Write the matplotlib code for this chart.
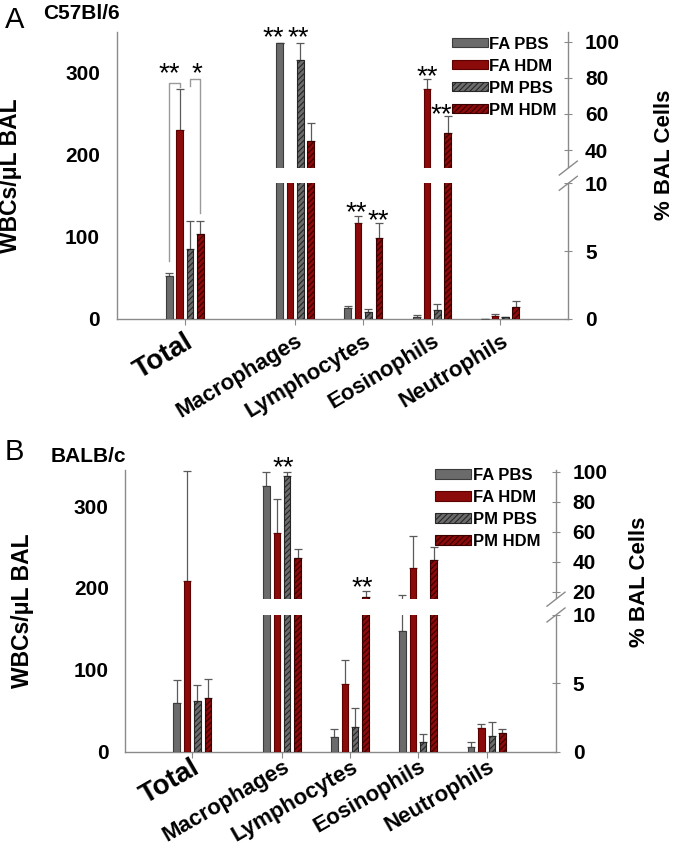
import numpy as np
import matplotlib.pyplot as plt
from matplotlib import transforms

plt.rcParams['font.family'] = ['Liberation Sans', 'DejaVu Sans']
plt.rcParams['hatch.linewidth'] = 0.8

W, H = 677, 852

groups = ['FA PBS', 'FA HDM', 'PM PBS', 'PM HDM']
cells = ['Macrophages', 'Lymphocytes', 'Eosinophils', 'Neutrophils']

# panel A - C57Bl/6 (Total in WBCs/uL, cell types in % BAL cells)
a_total = [52, 230, 85, 103]
a_total_err = [4, 50, 34, 16]
a_mac = [99.5, 19, 89.8, 45.2]
a_mac_err = [0, 2, 9.6, 9.9]
a_lym = [0.79, 7.1, 0.49, 5.95]
a_lym_err = [0.19, 0.5, 0.22, 1.1]
a_eos = [0.17, 73.9, 0.64, 49.2]
a_eos_err = [0.13, 5.2, 0.44, 9.7]
a_neu = [0.0, 0.25, 0.15, 0.86]
a_neu_err = [0, 0.09, 0, 0.49]

# panel B - BALB/c
b_total = [59, 208, 62, 66]
b_total_err = [28, 135, 19, 23]
b_mac = [90.4, 58.9, 97.1, 42.2]
b_mac_err = [9.6, 22.9, 2.5, 6.2]
b_lym = [1.05, 4.98, 1.79, 16.2]
b_lym_err = [0.62, 1.76, 1.42, 4.2]
b_eos = [8.85, 35.6, 0.74, 41.1]
b_eos_err = [9.0, 21.5, 0.56, 8.5]
b_neu = [0.37, 1.72, 1.18, 1.35]
b_neu_err = [0.32, 0.31, 0.98, 0.32]

face = ['#6b6b6b', '#8b0a0a', '#6b6b6b', '#8b0a0a']
edge = ['#3c3c3c', '#5c0000', '#262626', '#3a0000']
hatch = [None, None, '//////', '//////']
spine_c = '#8a8a8a'


def break_scale(lo_top, hi_bot, s_lo, s_gap, s_hi):
    u_lo = lo_top * s_lo
    u_hi = u_lo + (hi_bot - lo_top) * s_gap

    def fwd(v):
        v = np.asarray(v, dtype=float)
        return np.where(v <= lo_top, v * s_lo,
                        np.where(v <= hi_bot, u_lo + (v - lo_top) * s_gap,
                                 u_hi + (v - hi_bot) * s_hi))

    def inv(u):
        u = np.asarray(u, dtype=float)
        return np.where(u <= u_lo, u / s_lo,
                        np.where(u <= u_hi, lo_top + (u - u_lo) / s_gap,
                                 hi_bot + (u - u_hi) / s_hi))
    return fwd, inv


def panel(box, letter, strain, total, total_err, pct, pct_err, lay):
    x0, yt, x1, yb = box
    fig = plt.gcf()
    ax = fig.add_axes([x0 / W, 1 - yb / H, (x1 - x0) / W, (yb - yt) / H])
    ax2 = ax.twinx()
    step, bw = lay['step'], lay['width']
    centers = np.array(lay['centers'])

    # total cells, left axis
    for i in range(4):
        xi = centers[0] + (i - 1.5) * step
        ax.bar(xi, total[i], bw, color=face[i], edgecolor=edge[i], hatch=hatch[i], lw=0.8, zorder=3)
        ax.errorbar(xi, total[i], yerr=[[0], [total_err[i]]], fmt='none', ecolor='#5a5a5a',
                    elinewidth=0.9, capsize=2.6, capthick=0.9, zorder=2)

    # differential, right axis with broken scale
    fwd, inv = break_scale(*lay['brk'])
    ax2.set_yscale('function', functions=(fwd, inv))
    handles = []
    for i in range(4):
        xi = centers[1:] + (i - 1.5) * step
        vals = [p[i] for p in pct]
        errs = [e[i] for e in pct_err]
        b = ax2.bar(xi, vals, bw, color=face[i], edgecolor=edge[i], hatch=hatch[i], lw=0.8, zorder=3,
                    label=groups[i])
        ax2.errorbar(xi, vals, yerr=[np.zeros(4), errs], fmt='none', ecolor='#5a5a5a',
                     elinewidth=0.9, capsize=2.6, capthick=0.9, zorder=2)
        handles.append(b)

    ax.set_xlim(lay['xlim'])
    ax.set_ylim(0, lay['ylim'])
    ax2.set_ylim(0, lay['ylim2'])

    # gap of the broken axis
    lo_top, hi_bot = lay['brk'][0], lay['brk'][1]
    xl = lay['xlim']
    mx = ((centers[0] + centers[1]) / 2 - xl[0]) / (xl[1] - xl[0])
    tr = transforms.blended_transform_factory(ax2.transAxes, ax2.transData)
    ax2.add_patch(plt.Rectangle((mx, lo_top), 1.012 - mx, hi_bot - lo_top, transform=tr,
                                facecolor='white', edgecolor='none', zorder=10, clip_on=False))
    utop = fwd(lay['ylim2'])
    dx = 9 / (x1 - x0)
    dy = 7 / (yb - yt)
    for v in (lo_top, hi_bot):
        f = fwd(v) / utop
        ax2.plot([1 - dx, 1 + dx], [f - dy, f + dy], transform=ax2.transAxes, color=spine_c,
                 lw=1, clip_on=False, zorder=11)

    for s in ['top', 'right']:
        ax.spines[s].set_visible(False)
    for s in ['top', 'left', 'bottom']:
        ax2.spines[s].set_visible(False)
    for a in (ax, ax2):
        for s in a.spines.values():
            s.set_color(spine_c)
            s.set_linewidth(1)

    ax.set_yticks([0, 100, 200, 300])
    ax.tick_params(axis='y', length=0, pad=12, labelsize=15)
    ax2.set_yticks(lay['rticks'])
    ax2.set_yticklabels([str(t) for t in lay['rticks']])
    ax2.tick_params(axis='y', direction='inout', length=6, color=spine_c, pad=9, labelsize=15)
    for t in ax.get_yticklabels() + ax2.get_yticklabels():
        t.set_fontweight('bold')

    ax.set_xticks(centers)
    ax.set_xticklabels(['Total'] + cells, rotation=lay['rot'], ha='right', va='center',
                       rotation_mode='anchor')
    ax.tick_params(axis='x', length=4, color=spine_c, pad=lay['xpad'], labelsize=16)
    off = transforms.ScaledTranslation(6 / 100, 0, fig.dpi_scale_trans)
    for k, t in enumerate(ax.get_xticklabels()):
        t.set_fontweight('bold')
        t.set_transform(t.get_transform() + off)
        if k == 0:
            t.set_fontsize(20)

    ax.set_ylabel('WBCs/μL BAL', fontsize=16.5, fontweight='bold')
    ax.yaxis.set_label_coords(*lay['llab'])
    ax2.set_ylabel('% BAL Cells', fontsize=16, fontweight='bold')
    ax2.yaxis.set_label_coords(*lay['rlab'])

    ax2.legend(handles, groups, loc='upper left', bbox_to_anchor=lay['leg'], frameon=False,
               handlelength=2.15, handleheight=0.5, handletextpad=0.1,
               labelspacing=0.42, borderpad=0, borderaxespad=0,
               prop={'weight': 'bold', 'size': 12})

    # significance marks
    down = transforms.ScaledTranslation(0, -5 / 100, fig.dpi_scale_trans)
    for gi, off_x, yv, txt, which in lay['stars']:
        a = ax if which == 'L' else ax2
        a.text(centers[gi] + off_x, yv, txt, ha='center', va='center', fontsize=20,
               clip_on=False, zorder=12, transform=a.transData + down)
    for xs, ys in lay['brackets']:
        ax.plot([centers[0] + (k - 1.5) * step for k in xs], ys, color='#9a9a9a', lw=1, zorder=4)

    fig.text(lay['letter'][0] / W, 1 - lay['letter'][1] / H, letter, fontsize=21, va='baseline')
    fig.text(lay['strain'][0] / W, 1 - lay['strain'][1] / H, strain, fontsize=15,
             fontweight='bold', va='baseline')
    return ax, ax2


fig = plt.figure(figsize=(W / 100, H / 100), dpi=100)

lay_a = dict(step=0.152, width=0.096, centers=[0, 1.62, 2.62, 3.63, 4.63], xlim=(-1.0, 5.63),
             ylim=349, ylim2=105.5, brk=(10, 30, 13.57, 0.76, 1.806),
             rticks=[0, 5, 10, 40, 60, 80, 100], llab=(-0.21, 0.5), rlab=(1.19, 0.57),
             leg=(0.742, 0.983), rot=31, xpad=11,
             stars=[(0, -0.23, 303, '**', 'L'), (0, 0.18, 303, '*', 'L'),
                    (1, -0.32, 104.8, '**', 'R'), (1, 0.044, 104.8, '**', 'R'),
                    (2, -0.10, 8.18, '**', 'R'), (2, 0.22, 7.59, '**', 'R'),
                    (3, -0.074, 83.2, '**', 'R'), (3, 0.13, 62.2, '**', 'R')],
             brackets=[([0, 0, 1, 1], [70, 287, 287, 282]), ([2, 2, 3, 3], [283, 291, 291, 129])],
             letter=(5, 28), strain=(43, 19))

lay_b = dict(step=0.153, width=0.096, centers=[0, 1.32, 2.32, 3.32, 4.33], xlim=(-0.985, 5.35),
             ylim=344, ylim2=101.1, brk=(10, 15, 13.67, 3.16, 1.5),
             rticks=[0, 5, 10, 20, 40, 60, 80, 100], llab=(-0.213, 0.5), rlab=(1.17, 0.602),
             leg=(0.72, 1.008), rot=30, xpad=6,
             stars=[(1, 0.015, 105.8, '**', 'R'), (2, 0.18, 25.8, '**', 'R')],
             brackets=[], letter=(5, 460), strain=(51, 462))

panel((116.7, 31.7, 568.3, 319), 'A', 'C57Bl/6', a_total, a_total_err,
      [a_mac, a_lym, a_eos, a_neu], [a_mac_err, a_lym_err, a_eos_err, a_neu_err], lay_a)
panel((125.3, 470, 556, 751.7), 'B', 'BALB/c', b_total, b_total_err,
      [b_mac, b_lym, b_eos, b_neu], [b_mac_err, b_lym_err, b_eos_err, b_neu_err], lay_b)

fig.savefig('out.png', dpi=100)
